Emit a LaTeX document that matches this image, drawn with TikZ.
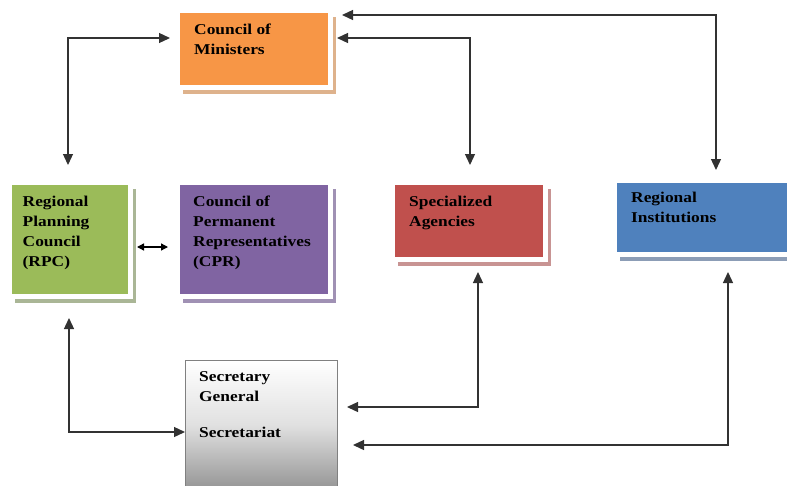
\documentclass[tikz,border=0pt]{standalone}
\usepackage{fontspec}
\setmainfont{Liberation Serif}[FakeStretch=1.16]
\usetikzlibrary{arrows.meta,shadows}

\definecolor{comfill}{RGB}{247,150,70}
\definecolor{comshad}{RGB}{222,178,140}
\definecolor{rpcfill}{RGB}{155,187,89}
\definecolor{rpcshad}{RGB}{170,182,150}
\definecolor{cprfill}{RGB}{128,100,162}
\definecolor{cprshad}{RGB}{160,145,180}
\definecolor{safill}{RGB}{192,80,77}
\definecolor{sashad}{RGB}{200,148,147}
\definecolor{rifill}{RGB}{79,129,189}
\definecolor{rishad}{RGB}{140,157,182}
\definecolor{linkcol}{RGB}{50,50,50}

\tikzset{
  box/.style={draw=white, line width=5pt, inner sep=0pt, outer sep=0pt, anchor=north west},
  shad/.style={general shadow={shadow xshift=5pt, shadow yshift=-6pt, fill=#1}},
  lbl/.style={anchor=north west, align=left, inner sep=0pt, xshift=16.5pt, yshift=-13.2pt,
    font=\fontsize{15}{20}\selectfont\bfseries, text=black},
  link/.style={draw=linkcol, line width=1.3pt, {Triangle[length=11pt,width=10pt]}-{Triangle[length=11pt,width=10pt]}},
  smalllink/.style={draw=black, line width=1.3pt, {Triangle[length=7pt,width=7pt]}-{Triangle[length=7pt,width=7pt]}}
}

\begin{document}
\begin{tikzpicture}[x=1pt,y=-1pt]
\useasboundingbox (0,0) rectangle (787,485);

\node[box, fill=comfill, shad=comshad, minimum width=153pt, minimum height=77pt,
  label={[lbl]north west:{Council of\\Ministers}}] (com) at (177.5,10.5) {};
\node[box, fill=rpcfill, shad=rpcshad, minimum width=121pt, minimum height=114pt,
  label={[lbl, xshift=-3.5pt]north west:{Regional\\Planning\\Council\\(RPC)}}] (rpc) at (9.5,182.5) {};
\node[box, fill=cprfill, shad=cprshad, minimum width=153pt, minimum height=114pt,
  label={[lbl, xshift=-1pt]north west:{Council of\\Permanent\\Representatives\\(CPR)}}] (cpr) at (177.5,182.5) {};
\node[box, fill=safill, shad=sashad, minimum width=153pt, minimum height=77pt,
  label={[lbl]north west:{Specialized\\Agencies}}] (sa) at (392.5,182.5) {};
\node[box, fill=rifill, shad=rishad, minimum width=175pt, minimum height=74pt,
  label={[lbl, yshift=2pt]north west:{Regional\\Institutions}}] (ri) at (614.5,180.5) {};
\node[draw=gray, line width=1pt, top color=white, bottom color=black!42, middle color=black!12,
  inner sep=0pt, outer sep=0pt, anchor=north west, minimum width=152pt, minimum height=130pt,
  label={[lbl, xshift=-2.5pt, yshift=1.5pt]north west:{Secretary\\General\\[16pt]Secretariat}}] (sec) at (185,360) {};

\draw[link] ([xshift=-2pt,yshift=17.5pt]rpc.north) |- ([xshift=-7.5pt,yshift=11pt]com.west);
\draw[link] ([xshift=6.5pt,yshift=11pt]com.east) -| ([xshift=1pt,yshift=17.5pt]sa.north);
\draw[link] ([xshift=11.5pt,yshift=34pt]com.east) -| ([xshift=14pt,yshift=10.5pt]ri.north);
\draw[smalllink] ([xshift=6.5pt,yshift=-7.5pt]rpc.east) -- ([xshift=-9.5pt,yshift=-7.5pt]cpr.west);
\draw[link] ([xshift=-1pt,yshift=-21.5pt]rpc.south) |- ([yshift=-7pt]sec.west);
\draw[link] ([xshift=9pt,yshift=-12.5pt]sa.south) |- ([xshift=10pt,yshift=18pt]sec.east);
\draw[link] ([xshift=26pt,yshift=-17.5pt]ri.south) |- ([xshift=16pt,yshift=-20pt]sec.east);
\end{tikzpicture}
\end{document}
